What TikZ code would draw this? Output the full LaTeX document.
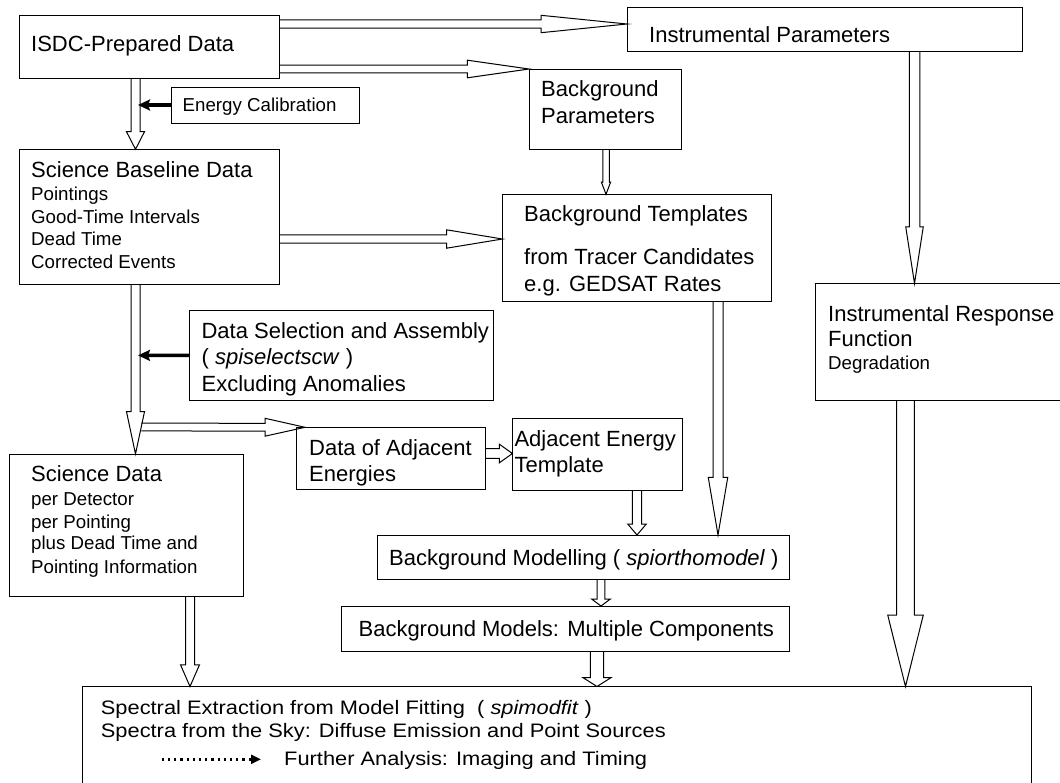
\documentclass[tikz,border=0pt]{standalone}
\usepackage{fontspec}
\setmainfont{Liberation Sans}
\usetikzlibrary{calc,arrows.meta}
\newcommand\mainsz{\fontsize{22}{26}\selectfont}
\newcommand\smallsz{\fontsize{18.7}{22}\selectfont}
\newcommand\botsz{\fontsize{19.5}{23}\selectfont}
% hollow block arrow: #1 start, #2 tip, #3 half shaft, #4 half head, #5 head length
\newcommand\harrow[5]{%
  \coordinate (hb) at ($(#2)!#5!(#1)$);
  \draw[harr] ($(#1)!#3!90:(#2)$) -- ($(hb)!#3!-90:(#1)$) -- ($(hb)!#4!-90:(#1)$) -- (#2)
    -- ($(hb)!#4!90:(#1)$) -- ($(hb)!#3!90:(#1)$) -- ($(#1)!#3!-90:(#2)$);
}
\begin{document}
\begin{tikzpicture}[x=1pt,y=-1pt,
  box/.style={draw, line width=1pt, inner sep=0pt, outer sep=0pt, anchor=north west},
  mt/.style={anchor=base west, inner sep=0pt, font=\mainsz},
  st/.style={anchor=base west, inner sep=0pt, font=\smallsz},
  bt/.style={anchor=base west, inner sep=0pt, font=\botsz},
  harr/.style={line width=1pt, line join=miter},
  solidarr/.style={line width=3.3pt, -{Stealth[length=12pt,width=11pt,inset=2pt]}},
  dotarr/.style={line width=2.4pt, dash pattern=on 2.2pt off 4pt, -{Triangle[length=10pt,width=9pt]}}]
\useasboundingbox (0,0) rectangle (1060,782);
\clip (0,0) rectangle (1060,782);

% boxes
\node[box, minimum width=260pt, minimum height=63.3pt] (isdc) at (19,15) {};
\node[box, minimum width=188pt, minimum height=36pt] (ecal) at (171,87) {};
\node[box, minimum width=260pt, minimum height=134.7pt] (sbd) at (19,149.3) {};
\node[box, minimum width=395pt, minimum height=44pt] (instr) at (627,7) {};
\node[box, minimum width=152.6pt, minimum height=80.3pt] (bgpar) at (529,69) {};
\node[box, minimum width=268.5pt, minimum height=107.4pt] (bgt) at (502.5,194.3) {};
\node[box, minimum width=260pt, minimum height=117pt] (irf) at (815.6,283.5) {};
\node[box, minimum width=303.6pt, minimum height=89.3pt] (dsel) at (189.4,310.7) {};
\node[box, minimum width=233.4pt, minimum height=142.7pt] (sd) at (9.6,454) {};
\node[box, minimum width=188.4pt, minimum height=62pt] (dadj) at (296.6,427.3) {};
\node[box, minimum width=169.6pt, minimum height=71.7pt] (adjet) at (512.4,418.3) {};
\node[box, minimum width=412pt, minimum height=44.3pt] (bgmod) at (377,535) {};
\node[box, minimum width=448pt, minimum height=45pt] (bgms) at (341.5,606) {};
\node[box, minimum width=948.4pt, minimum height=130pt] (bottom) at (82.6,686.5) {};

% texts
\node[mt] (t-isdc) at (31,51) {ISDC-Prepared Data};
\node[st] (t-ecal) at (182.5,111.7) {Energy Calibration};
\node[mt] (t-sbd1) at (31,177) {Science Baseline Data};
\node[st] (t-sbd2) at (31,200.7) {Pointings};
\node[st] (t-sbd3) at (31,223.7) {Good-Time Intervals};
\node[st] (t-sbd4) at (31,245.7) {Dead Time};
\node[st] (t-sbd5) at (31,268.7) {Corrected Events};
\node[mt] (t-instr) at (649,42) {Instrumental Parameters};
\node[mt] (t-bgp1) at (541,96) {Background};
\node[mt] (t-bgp2) at (541,123) {Parameters};
\node[mt] (t-bgt1) at (524,221) {Background Templates};
\node[mt] (t-bgt2) at (524,264) {from Tracer Candidates};
\node[mt] (t-bgt3) at (524,291) {e.g. GEDSAT Rates};
\node[mt] (t-irf1) at (828,321) {Instrumental Response};
\node[mt] (t-irf2) at (828,346) {Function};
\node[st] (t-irf3) at (828,369.7) {Degradation};
\node[mt] (t-ds1) at (201.4,338.6) {Data Selection and Assembly};
\node[mt] (t-ds2) at (201.4,364.6) {( \textit{spiselectscw} )};
\node[mt] (t-ds3) at (201.4,391.2) {Excluding Anomalies};
\node[mt] (t-sd1) at (31,481) {Science Data};
\node[st] (t-sd2) at (31,505.7) {per Detector};
\node[st] (t-sd3) at (31,528.7) {per Pointing};
\node[st] (t-sd4) at (31,549.7) {plus Dead Time and};
\node[st] (t-sd5) at (31,573.7) {Pointing Information};
\node[mt] (t-da1) at (309,455) {Data of Adjacent};
\node[mt] (t-da2) at (309,481) {Energies};
\node[mt] (t-ae1) at (514.3,446) {Adjacent Energy};
\node[mt] (t-ae2) at (514.3,472) {Template};
\node[mt] (t-bgm) at (389,565) {Background Modelling ( \textit{spiorthomodel} )};
\node[mt] (t-bgs) at (358.4,636) {Background Models: Multiple Components};
\node[bt] (t-bo1) at (100.7,714.3) {\scalebox{1.12}[1]{Spectral Extraction from Model Fitting\ \ ( \textit{spimodfit} )}};
\node[bt] (t-bo2) at (100.7,737.7) {\scalebox{1.12}[1]{Spectra from the Sky: Diffuse Emission and Point Sources}};
\node[bt] (t-bo3) at (284,765.3) {\scalebox{1.12}[1]{Further Analysis: Imaging and Timing}};

% connector end points
\coordinate (a1s) at (isdc.east |- 0,24);
\coordinate (a1e) at (instr.west |- 0,24);
\coordinate (a2s) at (isdc.east |- 0,69);
\coordinate (a3s) at (isdc.south -| 135.5,0);
\coordinate (a3e) at (sbd.north -| 135.5,0);
\coordinate (a4e) at (138,105);
\coordinate (a5s) at (sbd.east |- 0,239);
\coordinate (a5e) at (bgt.west |- 0,239);
\coordinate (a6s) at (bgpar.south -| 606,0);
\coordinate (a6e) at (bgt.north -| 606,0);
\coordinate (a7s) at (instr.south -| 914.5,0);
\coordinate (a7e) at (irf.north -| 914.5,0);
\coordinate (a8s) at (sbd.south -| 135.5,0);
\coordinate (a8e) at (sd.north -| 135.5,0);
\coordinate (a9e) at (138,355.4);
\coordinate (a10s) at (141.3,427);
\coordinate (a10e) at ($(dadj.north west)+(8.4,0)$);
\coordinate (a11s) at (dadj.east |- 0,453.5);
\coordinate (a11e) at (adjet.west |- 0,453.5);
\coordinate (a12s) at (adjet.south -| 637,0);
\coordinate (a12e) at (bgmod.north -| 637,0);
\coordinate (a13s) at (bgt.south -| 718,0);
\coordinate (a13e) at (bgmod.north -| 718,0);
\coordinate (a14s) at (bgmod.south -| 601,0);
\coordinate (a14e) at (bgms.north -| 601,0);
\coordinate (a15s) at (bgms.south -| 597,0);
\coordinate (a15e) at (bottom.north -| 597,0);
\coordinate (a16s) at (irf.south -| 905.5,0);
\coordinate (a16e) at (bottom.north -| 905.5,0);
\coordinate (a17s) at (sd.south -| 190,0);
\coordinate (a17e) at (bottom.north -| 190,0);
\coordinate (d1) at (161.7,759.3);
\coordinate (d2) at (261,759.3);

% hollow arrows
\harrow{a1s}{a1e}{4.2pt}{8.7pt}{86pt}
\harrow{a2s}{bgpar.north west}{3.9pt}{8.8pt}{61.6pt}
\harrow{a3s}{a3e}{4.5pt}{9pt}{17.6pt}
\harrow{a5s}{a5e}{4.2pt}{9.2pt}{56pt}
\harrow{a6s}{a6e}{3.25pt}{4.65pt}{12.3pt}
\harrow{a7s}{a7e}{5.25pt}{8.75pt}{56.6pt}
\harrow{a8s}{a8e}{4.5pt}{9pt}{42.3pt}
\harrow{a10s}{a10e}{3.9pt}{8.9pt}{39.8pt}
\harrow{a11s}{a11e}{4.85pt}{9.35pt}{13.1pt}
\harrow{a12s}{a12e}{4.55pt}{9.3pt}{11pt}
\harrow{a13s}{a13e}{5pt}{9.75pt}{57.7pt}
\harrow{a14s}{a14e}{3.8pt}{9.4pt}{7pt}
\harrow{a15s}{a15e}{6.65pt}{13.9pt}{8.8pt}
\harrow{a16s}{a16e}{8.9pt}{17.8pt}{71.5pt}
\harrow{a17s}{a17e}{4.5pt}{9.5pt}{21.7pt}

% solid arrows
\draw[solidarr] (ecal.west) -- (a4e);
\draw[solidarr] (dsel.west) -- (a9e);
% dotted arrow
\draw[dotarr] (d1) -- (d2);
\end{tikzpicture}
\end{document}
